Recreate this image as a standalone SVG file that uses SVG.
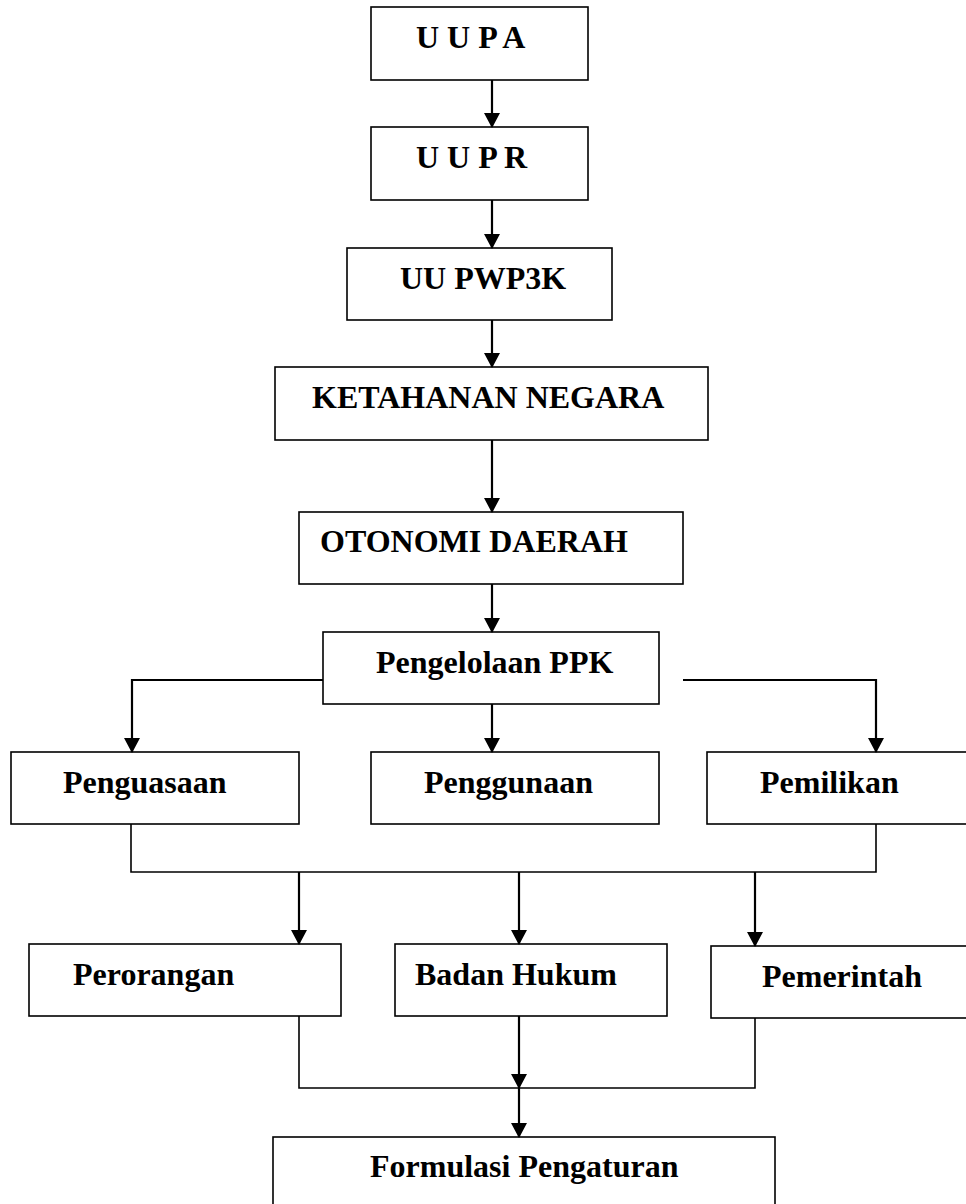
<svg xmlns="http://www.w3.org/2000/svg" width="966" height="1204" viewBox="0 0 966 1204">
<defs>
<style>
.box{fill:#fff;stroke:#000;stroke-width:1.6}
.lbl{font-family:"Liberation Serif","Times New Roman",serif;font-weight:bold;font-size:32px;fill:#000}
.arr{fill:none;stroke:#000;stroke-width:2.2;marker-end:url(#ah)}
.ln{fill:none;stroke:#000;stroke-width:1.6}
</style>
<marker id="ah" viewBox="0 0 15 16" markerWidth="15" markerHeight="16" refX="14" refY="8" orient="auto" markerUnits="userSpaceOnUse">
<path d="M0,0 L15,8 L0,16 z" fill="#000"/>
</marker>
</defs>
<rect width="966" height="1204" fill="#fff"/>
<g id="n-uupa"><rect class="box" x="371" y="7" width="217" height="73"/><text class="lbl" x="416" y="48">U U P A</text></g>
<g id="n-uupr"><rect class="box" x="371" y="127" width="217" height="73"/><text class="lbl" x="416" y="168">U U P R</text></g>
<g id="n-uupwp3k"><rect class="box" x="347" y="248" width="265" height="72"/><text class="lbl" x="400" y="289">UU PWP3K</text></g>
<g id="n-ketahanan"><rect class="box" x="275" y="367" width="433" height="73"/><text class="lbl" x="312" y="408">KETAHANAN NEGARA</text></g>
<g id="n-otonomi"><rect class="box" x="299" y="512" width="384" height="72"/><text class="lbl" x="320" y="552">OTONOMI DAERAH</text></g>
<g id="n-pengelolaan"><rect class="box" x="323" y="632" width="336" height="72"/><text class="lbl" x="376" y="673">Pengelolaan PPK</text></g>
<g id="n-penguasaan"><rect class="box" x="11" y="752" width="288" height="72"/><text class="lbl" x="63" y="793">Penguasaan</text></g>
<g id="n-penggunaan"><rect class="box" x="371" y="752" width="288" height="72"/><text class="lbl" x="424" y="793">Penggunaan</text></g>
<g id="n-pemilikan"><rect class="box" x="707" y="752" width="280" height="72"/><text class="lbl" x="760" y="793">Pemilikan</text></g>
<g id="n-perorangan"><rect class="box" x="29" y="944" width="312" height="72"/><text class="lbl" x="73" y="985">Perorangan</text></g>
<g id="n-badanhukum"><rect class="box" x="395" y="944" width="272" height="72"/><text class="lbl" x="415" y="985">Badan Hukum</text></g>
<g id="n-pemerintah"><rect class="box" x="711" y="946" width="276" height="72"/><text class="lbl" x="762" y="987">Pemerintah</text></g>
<g id="n-formulasi"><rect class="box" x="273" y="1137" width="502" height="90"/><text class="lbl" x="370" y="1177">Formulasi Pengaturan</text></g>
<g id="connectors">
<path class="arr" d="M492,80 V127"/>
<path class="arr" d="M492,200 V248"/>
<path class="arr" d="M492,320 V367"/>
<path class="arr" d="M492,440 V512"/>
<path class="arr" d="M492,584 V632"/>
<path class="arr" d="M492,704 V752"/>
<path class="arr" d="M323,680 H132 V752"/>
<path class="arr" d="M683,680 H876 V752"/>
<path class="ln" d="M131,824 V872 H876 V824"/>
<path class="arr" d="M299,872 V944"/>
<path class="arr" d="M519,872 V944"/>
<path class="arr" d="M755,872 V946"/>
<path class="ln" d="M299,1016 V1088 H755 V1018"/>
<path class="arr" d="M519,1016 V1088"/>
<path class="arr" d="M519,1088 V1137"/>
</g>
</svg>
